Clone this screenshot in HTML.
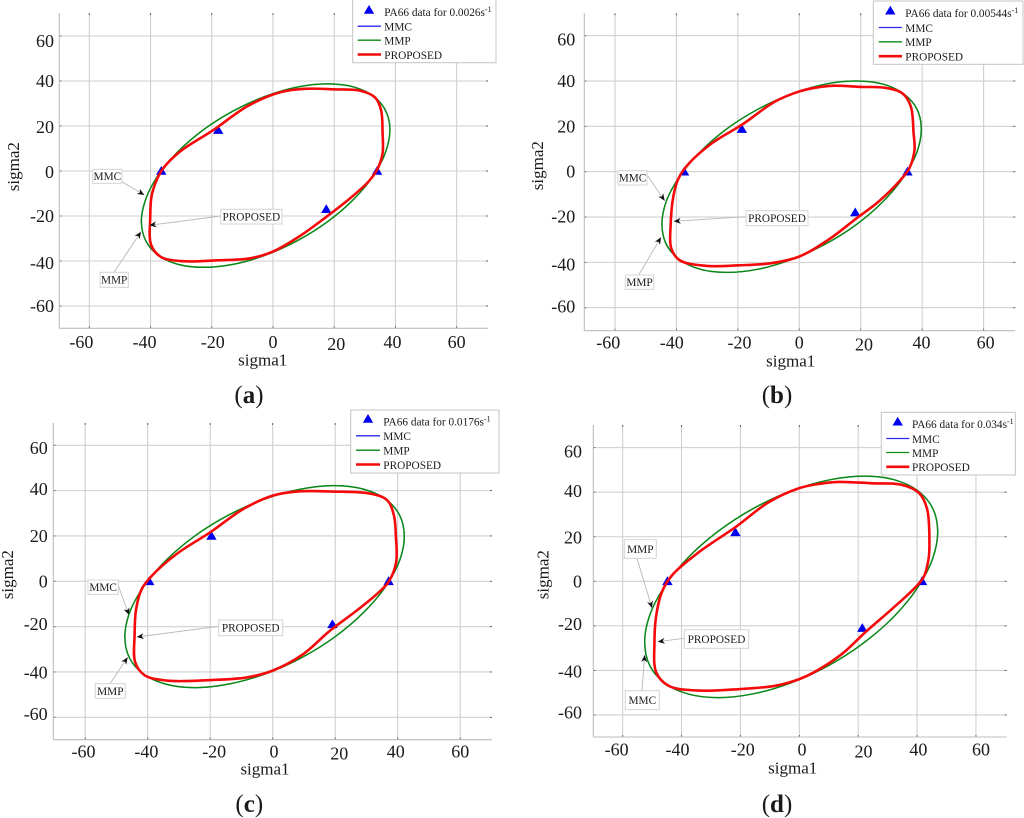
<!DOCTYPE html>
<html>
<head>
<meta charset="utf-8">
<title>PA66 yield surfaces</title>
<style>
html,body{margin:0;padding:0;background:#fff;}
#figure{display:block;width:1024px;height:818px;font-family:"Liberation Serif",serif;filter:blur(0.35px);}
text{font-family:"Liberation Serif",serif;fill:#1a1a1a;}
</style>
</head>
<body>
<svg id="figure" xmlns="http://www.w3.org/2000/svg" width="1024" height="818" viewBox="0 0 1024 818"></svg>
<script>
const xTickValues=[-60,-40,-20,0,20,40,60];
const yTickValues=[60,40,20,0,-20,-40,-60];
const xTitle='sigma1';
const yTitle='sigma2';
const seriesNames=['MMC','MMP','PROPOSED'];

const rateA='0.0026';
const dataA=[[-36.5,0],[-17.9,18.2],[34,0],[17.4,-17]];
const mmpA=[[38.2,18.35],[36.8,26.75],[32.8,33.25],[26.3,37.35],[17.9,38.7],[8.1,37.35],[-2.4,33.25],[-12.9,26.75],[-22.7,18.35],[-31.1,8.55],[-37.6,-2.05],[-41.6,-12.65],[-43,-22.45],[-41.6,-30.85],[-37.6,-37.35],[-31.1,-41.45],[-22.7,-42.8],[-12.9,-41.45],[-2.4,-37.35],[8.1,-30.85],[17.9,-22.45],[26.3,-12.65],[32.8,-2.05],[36.8,8.55]];
const mmcA=[[38.25,18.4],[36.85,26.8],[32.85,33.3],[26.35,37.4],[17.9,38.75],[8.1,37.4],[-2.4,33.3],[-12.9,26.8],[-22.7,18.4],[-31.1,8.6],[-37.6,-2],[-41.65,-12.65],[-43.05,-22.45],[-41.65,-30.9],[-37.65,-37.4],[-31.15,-41.5],[-22.7,-42.85],[-12.9,-41.5],[-2.4,-37.4],[8.1,-30.9],[17.9,-22.5],[26.3,-12.7],[32.85,-2.1],[36.85,8.5]];
const proposedA=[[12.1,36.6],[19.7,36.3],[28.4,35.7],[33.4,32.6],[35.3,27.1],[35.8,16.7],[35.8,7.9],[34.1,0.8],[31.2,-4.7],[25.2,-12.1],[17.5,-20.3],[8.8,-28.9],[0,-35.8],[-7.5,-38.8],[-18.4,-39.7],[-29.3,-40.1],[-36.6,-38.2],[-39.8,-32.9],[-40.1,-20.3],[-39.7,-11.4],[-38,-4],[-35.8,1.3],[-30.4,8.6],[-19.5,18.2],[-8.6,28.6],[0,34],[6.1,36]];

const rateB='0.00544';
const dataB=[[-37.5,0],[-18.7,18.8],[35.2,0],[18.2,-18]];
const mmpB=[[39.7,18.9],[38.3,27.6],[34,34.3],[27.3,38.6],[18.6,40],[8.4,38.6],[-2.5,34.3],[-13.4,27.6],[-23.6,18.9],[-32.3,8.7],[-39,-2.2],[-43.3,-13.1],[-44.7,-23.3],[-43.3,-32],[-39,-38.7],[-32.3,-43],[-23.6,-44.4],[-13.4,-43],[-2.5,-38.7],[8.4,-32],[18.6,-23.3],[27.3,-13.1],[34,-2.2],[38.3,8.7]];
const mmcB=[[39.75,18.95],[38.35,27.65],[34.05,34.35],[27.35,38.65],[18.6,40.05],[8.4,38.65],[-2.5,34.35],[-13.4,27.65],[-23.6,18.95],[-32.3,8.75],[-39,-2.15],[-43.35,-13.1],[-44.75,-23.3],[-43.35,-32.05],[-39.05,-38.75],[-32.35,-43.05],[-23.6,-44.45],[-13.4,-43.05],[-2.5,-38.75],[8.4,-32.05],[18.6,-23.35],[27.3,-13.15],[34.05,-2.25],[38.35,8.65]];
const proposedB=[[10.6,37.9],[20.4,37.4],[28,37],[33.7,34.4],[36.3,28.8],[37.2,17],[37.5,9.7],[35.8,1.5],[32.5,-4.3],[25.8,-13.2],[18.5,-20.7],[9.5,-30],[0,-37.4],[-8.9,-40.3],[-19.7,-41.3],[-30.6,-41.5],[-39,-39],[-41.7,-33.7],[-41.9,-24.1],[-41,-10.9],[-39.5,-3.5],[-36.6,2.6],[-28.4,12.6],[-18.7,20.7],[-7.8,31],[0,35.4],[4.6,36.9]];

const rateC='0.0176';
const dataC=[[-39.5,0],[-19.6,20],[37.1,0],[19.1,-19]];
const mmpC=[[42.1,19.95],[40.6,29.15],[36.1,36.25],[29,40.65],[19.75,42.2],[9,40.65],[-2.6,36.25],[-14.2,29.15],[-24.95,19.95],[-34.2,9.15],[-41.3,-2.35],[-45.8,-13.85],[-47.3,-24.65],[-45.8,-33.85],[-41.3,-40.95],[-34.2,-45.35],[-24.95,-46.9],[-14.2,-45.35],[-2.6,-40.95],[9,-33.85],[19.75,-24.65],[29,-13.85],[36.1,-2.35],[40.6,9.15]];
const mmcC=[[42.15,20],[40.65,29.2],[36.15,36.3],[29.05,40.7],[19.75,42.25],[9,40.7],[-2.6,36.3],[-14.2,29.2],[-24.95,20],[-34.2,9.2],[-41.3,-2.3],[-45.85,-13.85],[-47.35,-24.65],[-45.85,-33.9],[-41.35,-41],[-34.25,-45.4],[-24.95,-46.95],[-14.2,-45.4],[-2.6,-41],[9,-33.9],[19.75,-24.7],[29,-13.9],[36.15,-2.4],[40.65,9.1]];
const proposedC=[[7.7,39.6],[19.4,39.6],[31.1,38.7],[36.6,35.8],[38.8,29],[39.4,20.1],[39.5,8.4],[37.2,0],[33.9,-4.9],[26.9,-12.9],[18.3,-21.8],[9.8,-32.1],[0,-39.4],[-8.3,-42.4],[-19,-43.5],[-33.9,-43.8],[-41,-41.4],[-44,-35.7],[-44.2,-24],[-43.7,-12.2],[-41.9,-3.4],[-38.7,2.4],[-30.7,12.1],[-20,21.6],[-9.4,31.9],[0,37.8]];

const rateD='0.034';
const dataD=[[-44.8,0],[-21.7,22],[41.7,0],[21.4,-21]];
const mmpD=[[47,22.35],[45.35,32.65],[40.35,40.55],[32.45,45.5],[22.15,47.2],[10.15,45.5],[-2.75,40.55],[-15.65,32.65],[-27.65,22.35],[-37.95,10.4],[-45.85,-2.5],[-50.85,-15.4],[-52.5,-27.35],[-50.85,-37.65],[-45.85,-45.55],[-37.95,-50.5],[-27.65,-52.2],[-15.65,-50.5],[-2.75,-45.55],[10.15,-37.65],[22.15,-27.35],[32.45,-15.4],[40.35,-2.5],[45.35,10.4]];
const mmcD=[[47.05,22.4],[45.4,32.7],[40.4,40.6],[32.5,45.55],[22.15,47.25],[10.15,45.55],[-2.75,40.6],[-15.65,32.7],[-27.65,22.4],[-37.95,10.45],[-45.85,-2.45],[-50.9,-15.4],[-52.55,-27.35],[-50.9,-37.7],[-45.9,-45.6],[-38,-50.55],[-27.65,-52.25],[-15.65,-50.55],[-2.75,-45.6],[10.15,-37.7],[22.15,-27.4],[32.45,-15.45],[40.4,-2.55],[45.4,10.35]];
const proposedD=[[13.4,44.6],[24.7,44],[34.9,43.3],[40.7,39.6],[43.4,32.5],[44.2,17.5],[43.9,10],[42.2,1.8],[38.9,-3.4],[31.5,-12.4],[22.4,-22.9],[14.5,-32.6],[4.9,-40.9],[0,-43.9],[-8.2,-46.9],[-20.6,-48.4],[-35.3,-49],[-44.4,-46.9],[-48.6,-40.9],[-49.2,-27.4],[-48.6,-15.4],[-46.7,-4.9],[-43.3,2.6],[-34.2,13],[-21.7,24.3],[-10.4,35.5],[0,41.8],[6.6,43.7]];

const panels=[
 {id:'a',rate:rateA,data:dataA,mmc:mmcA,mmp:mmpA,proposed:proposedA,
  layout:{x0:273,y0:171,sx:3.061,sy:2.25,l:59.3,r:488,t:13,b:328.3,
   xn:[-8,-6,1,0,2,-3,0],xy:342,yr:54,yn:[5,0,1,1,0,2,0],
   xt:[262.7,360.7],yt:[14,166.7],cap:[249,395],
   leg:{l:352.7,r:496,t:-1,b:62.7,tx:369,ty:10,text:384.3,rows:[12,26.7,40.7,55],ll:357.7,lr:381},
   notes:[{s:'MMC',b:[92.7,169.3,122,183.3],f:[122,181.7],e:[144.3,195]},{s:'PROPOSED',b:[220.7,209.3,282,224],f:[220.7,216],e:[149.3,225.3]},{s:'MMP',b:[100,272.3,128.3,287.3],f:[114,272.3],e:[141,231.7]}]}},
 {id:'b',rate:rateB,data:dataB,mmc:mmcB,mmp:mmpB,proposed:proposedB,
  layout:{x0:799.3,y0:171.7,sx:3.072,sy:2.267,l:584.3,r:1015.3,t:13.3,b:330.7,
   xn:[-6.7,-4.7,1.7,0,3.3,-0.7,2],xy:342.7,yr:575.3,yn:[3.7,0,0,0,-0.3,2,-1],
   xt:[790.7,361.3],yt:[538,165.7],cap:[777,395],
   leg:{l:873.3,r:1023,t:1,b:64.3,tx:890.3,ty:10.7,text:905.3,rows:[13.3,28,42.3,56.7],ll:878.7,lr:902},
   notes:[{s:'MMC',b:[618,170.7,647,185],f:[647,175],e:[664.7,200.7]},{s:'PROPOSED',b:[746,210.7,808,225.7],f:[746,216.7],e:[673.7,221.3]},{s:'MMP',b:[625.3,275,653.7,289.3],f:[638.7,275],e:[661,237.3]}]}},
 {id:'c',rate:rateC,data:dataC,mmc:mmcC,mmp:mmpC,proposed:proposedC,
  layout:{x0:272.7,y0:581.3,sx:3.125,sy:2.267,l:53.3,r:492,t:423,b:739.7,
   xn:[-1.7,-1.3,4,1.3,4,-2,0],xy:751.7,yr:47.7,yn:[2.7,-1.7,0,0,-2.7,0.7,-3.3],
   xt:[265,769.7],yt:[8,574.7],cap:[249.3,804],
   leg:{l:350.7,r:499,t:410,b:473,tx:368,ty:419,text:383.3,rows:[421.7,436.3,450.7,465],ll:356,lr:380},
   notes:[{s:'MMC',b:[88,580,118.3,594.3],f:[118.3,585.7],e:[129,615]},{s:'PROPOSED',b:[218.7,620,282.7,635.7],f:[218.7,626.3],e:[136.7,637]},{s:'MMP',b:[95.3,683.7,125.3,698.3],f:[110,683.7],e:[127.7,657.3]}]}},
 {id:'d',rate:rateD,data:dataD,mmc:mmcD,mmp:mmpD,proposed:proposedD,
  layout:{x0:799.3,y0:581.3,sx:2.944,sy:2.228,l:593.3,r:1006.7,t:425,b:737,
   xn:[-6,-4,2.3,2.7,5.3,1.3,5],xy:749.7,yr:582,yn:[3.7,-1.3,1,0,-1.7,1.3,-2.3],
   xt:[792.7,768.3],yt:[543.7,574.7],cap:[777,804],
   leg:{l:881.3,r:1015.3,t:412.3,b:475,tx:897.7,ty:421.7,text:912,rows:[424,439,453,467.3],ll:886.3,lr:909.3},
   notes:[{s:'MMP',b:[624.3,539.7,656.3,558.3],f:[637,558.3],e:[652,608]},{s:'PROPOSED',b:[684.3,629.7,748.7,648.3],f:[684.3,638.3],e:[657.7,641.7]},{s:'MMC',b:[625.3,690.7,659.3,709.7],f:[642,690.7],e:[644.7,655]}]}}
];

const NS='http://www.w3.org/2000/svg';
const root=document.getElementById('figure');
function mk(tag,attrs,parent){
  const el=document.createElementNS(NS,tag);
  for(const k in attrs){el.setAttribute(k,attrs[k]);}
  parent.appendChild(el);
  return el;
}
function smoothClosed(pts){
  const n=pts.length;
  const dist=(a,b)=>Math.pow(Math.hypot(a[0]-b[0],a[1]-b[1])||0.01,0.5);
  let d='M'+pts[0][0].toFixed(2)+' '+pts[0][1].toFixed(2);
  for(let i=0;i<n;i++){
    const p0=pts[(i-1+n)%n],p1=pts[i],p2=pts[(i+1)%n],p3=pts[(i+2)%n];
    const d1=dist(p0,p1),d2=dist(p1,p2),d3=dist(p2,p3);
    const a=2*d1*d1+3*d1*d2+d2*d2,b=3*d1*(d1+d2);
    const e=2*d3*d3+3*d3*d2+d2*d2,f=3*d3*(d3+d2);
    const c1x=(d1*d1*p2[0]-d2*d2*p0[0]+a*p1[0])/b,c1y=(d1*d1*p2[1]-d2*d2*p0[1]+a*p1[1])/b;
    const c2x=(d3*d3*p1[0]-d2*d2*p3[0]+e*p2[0])/f,c2y=(d3*d3*p1[1]-d2*d2*p3[1]+e*p2[1])/f;
    d+='C'+c1x.toFixed(2)+' '+c1y.toFixed(2)+' '+c2x.toFixed(2)+' '+c2y.toFixed(2)+' '+p2[0].toFixed(2)+' '+p2[1].toFixed(2);
  }
  return d+'Z';
}
function triangle(cx,cy,parent,name){
  const el=mk('polygon',{points:(cx-5.2)+','+(cy+3.8)+' '+(cx+5.2)+','+(cy+3.8)+' '+cx+','+(cy-5),fill:'#0000f0'},parent);
  
  
  return el;
}
function drawPanel(p){
  const L=p.layout;
  const g=mk('g',{},root);
  
  
  const xScale=v=>L.x0+v*L.sx;
  const yScale=v=>L.y0-v*L.sy;

  xTickValues.forEach((v,i)=>{
    const x=xScale(v);
    const line=mk('line',{x1:x,x2:x,y1:L.t,y2:L.b,stroke:'#cfcfcf','stroke-width':1.1},g);
    
    
    mk('line',{x1:x,x2:x,y1:L.t,y2:L.t+2,stroke:'#555','stroke-width':0.9},g);
    mk('line',{x1:x,x2:x,y1:L.b-2,y2:L.b,stroke:'#555','stroke-width':0.9},g);
    const t=mk('text',{x:x+L.xn[i],y:L.xy+(v===20?8:6),'text-anchor':'middle','font-size':18},g);
    
    
    t.textContent=v;
  });
  yTickValues.forEach((v,i)=>{
    const y=yScale(v);
    const line=mk('line',{x1:L.l,x2:L.r,y1:y,y2:y,stroke:'#cfcfcf','stroke-width':1.1},g);
    
    
    mk('line',{x1:L.l,x2:L.l+2,y1:y,y2:y,stroke:'#555','stroke-width':0.9},g);
    mk('line',{x1:L.r-2,x2:L.r,y1:y,y2:y,stroke:'#555','stroke-width':0.9},g);
    const t=mk('text',{x:L.yr,y:y+L.yn[i]+6,'text-anchor':'end','font-size':18},g);
    
    
    t.textContent=v;
  });
  const axX=mk('line',{x1:L.l,x2:L.r,y1:L.b,y2:L.b,stroke:'#bdbdbd','stroke-width':1.1},g);
  
  
  const axY=mk('line',{x1:L.l,x2:L.l,y1:L.t,y2:L.b,stroke:'#bdbdbd','stroke-width':1.1},g);
  
  

  const tx=mk('text',{x:L.xt[0],y:L.xt[1]+5,'text-anchor':'middle','font-size':17},g);
  
  
  tx.textContent=xTitle;
  const ty=mk('text',{x:0,y:0,'text-anchor':'middle','font-size':17,transform:'translate('+(L.yt[0]+5)+' '+L.yt[1]+') rotate(-90)'},g);
  
  
  ty.textContent=yTitle;

  const toPx=a=>a.map(q=>[xScale(q[0]),yScale(q[1])]);
  const mmc=mk('path',{d:smoothClosed(toPx(p.mmc)),fill:'none',stroke:'#1010f0','stroke-width':1},g);
  
  
  const mmp=mk('path',{d:smoothClosed(toPx(p.mmp)),fill:'none',stroke:'#0a8a14','stroke-width':1.5},g);
  
  
  p.data.forEach(q=>{triangle(xScale(q[0]),yScale(q[1]),g,'pa66-data-point');});
  const prop=mk('path',{d:smoothClosed(toPx(p.proposed)),fill:'none',stroke:'#f40a0a','stroke-width':2.6},g);
  
  

  L.notes.forEach(n=>{
    const ln=mk('line',{x1:n.f[0],y1:n.f[1],x2:n.e[0],y2:n.e[1],stroke:'#b8b8b8','stroke-width':0.9},g);
    
    
    const a=Math.atan2(n.e[1]-n.f[1],n.e[0]-n.f[0]);
    const bx=n.e[0]-7*Math.cos(a),by=n.e[1]-7*Math.sin(a);
    const nx=-Math.sin(a)*3,ny=Math.cos(a)*3;
    const mx=n.e[0]-5*Math.cos(a),my=n.e[1]-5*Math.sin(a);
    const head=mk('polygon',{points:n.e[0]+','+n.e[1]+' '+(bx+nx)+','+(by+ny)+' '+mx+','+my+' '+(bx-nx)+','+(by-ny),fill:'#111'},g);
    
    
    const box=mk('rect',{x:n.b[0],y:n.b[1],width:n.b[2]-n.b[0],height:n.b[3]-n.b[1],fill:'#fff',stroke:'#d4d4d4','stroke-width':1},g);
    
    
    const lab=mk('text',{x:(n.b[0]+n.b[2])/2,y:(n.b[1]+n.b[3])/2+3.8,'text-anchor':'middle','font-size':11.3},g);
    
    
    lab.textContent=n.s;
  });

  const G=L.leg;
  const lg=mk('g',{},g);
  
  
  mk('rect',{x:G.l,y:G.t,width:G.r-G.l,height:G.b-G.t,fill:'#fff',stroke:'#c4c4c4','stroke-width':1},lg);
  triangle(G.tx,G.ty,lg,'legend-data-marker');
  const t0=mk('text',{x:G.text,y:G.rows[0]+3.8,'font-size':11.3},lg);
  
  
  const t0a=mk('tspan',{},t0);
  t0a.textContent='PA66 data for '+p.rate+'s';
  const t0b=mk('tspan',{dy:-4,'font-size':8},t0);
  t0b.textContent='-1';
  const colors=['#2a2af5','#0a8a14','#f40a0a'];
  const widths=[1.3,1.3,2.6];
  seriesNames.forEach((s,i)=>{
    const y=G.rows[i+1];
    const sw=mk('line',{x1:G.ll,x2:G.lr,y1:y-0.5,y2:y-0.5,stroke:colors[i],'stroke-width':widths[i]},lg);
    
    
    const t=mk('text',{x:G.text,y:y+3.8,'font-size':11.3},lg);
    
    
    t.textContent=s;
  });

  const cap=mk('text',{x:L.cap[0],y:L.cap[1]+8,'text-anchor':'middle','font-size':25},g);
  
  
  const c1=mk('tspan',{},cap);
  c1.textContent='(';
  const c2=mk('tspan',{'font-weight':'bold'},cap);
  c2.textContent=p.id;
  const c3=mk('tspan',{},cap);
  c3.textContent=')';
}
panels.forEach(drawPanel);
</script>
</body>
</html>
